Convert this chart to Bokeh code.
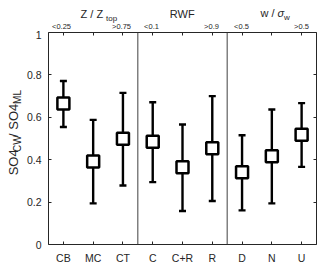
import math
from bokeh.plotting import figure
from bokeh.layouts import column, row
from bokeh.models import (ColumnDataSource, Whisker, TeeHead, Span,
                          FixedTicker, LinearAxis, Range1d)
from bokeh.core.properties import value
from bokeh.embed import file_html
from bokeh.resources import INLINE

categories = ["CB", "MC", "CT", "C", "C+R", "R", "D", "N", "U"]
top_labels = ["<0.25", "", ">0.75", "<0.1", "", ">0.9", "<0.5", "", ">0.5"]
median = [0.665, 0.391, 0.499, 0.485, 0.364, 0.454, 0.341, 0.416, 0.518]
upper = [0.771, 0.588, 0.715, 0.671, 0.566, 0.700, 0.515, 0.637, 0.667]
lower = [0.554, 0.194, 0.278, 0.294, 0.158, 0.205, 0.161, 0.194, 0.366]
group_bounds = [3.5, 6.5]
y_ticks = [0, 0.2, 0.4, 0.6, 0.8, 1]
y_tick_labels = ["0", "0.2", "0.4", "0.6", "0.8", "1"]

# group title pieces: text, x (category units), baseline (px from top)
title_text = ["Z / Z", "top", "RWF", "w / ", "\u03c3", "w"]
title_x = [1.633, 2.483, 5.023, 7.633, 8.2, 8.417]
title_y = [13.3, 18.0, 13.3, 12.9, 12.9, 17.4]
title_size = ["11px", "8px", "11px", "11px", "11px", "8px"]
title_align = ["left", "left", "center", "left", "left", "left"]
title_style = ["normal", "normal", "normal", "normal", "italic", "normal"]
top_label_baseline = 26.3

# y-label pieces (rotated): baseline x, start y (px from bottom)
ylab_text = ["SO4", "CW", " / SO4", "ML"]
ylab_x = [12.5, 16.5, 12.5, 16.5]
ylab_y = [77, 103, 119.7, 156.5]
ylab_size = ["13px", "10px", "13px", "10px"]

xs = list(range(1, len(categories) + 1))
FONT = "Liberation Sans"
AX = "#262626"

TITLE_H = 30
MAIN_H = 266 - TITLE_H
YLAB_W = 23
MAIN_W = 320 - YLAB_W

xr = Range1d(0.5, 9.5)

p = figure(width=MAIN_W, height=MAIN_H, output_backend="svg",
           toolbar_location=None, x_range=xr, y_range=Range1d(0, 1),
           min_border_left=23, min_border_right=4, min_border_top=2,
           min_border_bottom=22)
p.xgrid.visible = False
p.ygrid.visible = False
p.outline_line_color = AX
p.outline_line_width = 1
p.background_fill_color = "white"
p.border_fill_color = "white"

def style(ax, size="10.5px"):
    ax.axis_line_color = None
    ax.major_tick_in = 3
    ax.major_tick_out = 0
    ax.minor_tick_line_color = None
    ax.major_tick_line_color = AX
    ax.major_label_text_font = FONT
    ax.major_label_text_font_size = size
    ax.major_label_text_color = AX

xb = p.xaxis[0]
xb.ticker = FixedTicker(ticks=xs)
xb.major_label_overrides = {x: c for x, c in zip(xs, categories)}
style(xb)
xb.major_label_standoff = 7

yl = p.yaxis[0]
yl.ticker = FixedTicker(ticks=y_ticks)
yl.major_label_overrides = {t: l for t, l in zip(y_ticks, y_tick_labels)}
style(yl)
yl.major_label_standoff = 7

# top axis: ticks only (its labels are drawn in the strip above)
xt = LinearAxis(ticker=FixedTicker(ticks=xs),
                major_label_overrides={x: "" for x in xs})
style(xt, "1px")
xt.major_label_standoff = 0
p.add_layout(xt, "above")

yr = LinearAxis(ticker=FixedTicker(ticks=y_ticks),
                major_label_overrides={t: "" for t in y_ticks})
style(yr, "1px")
yr.major_label_standoff = 0
p.add_layout(yr, "right")

for b in group_bounds:
    p.add_layout(Span(location=b, dimension="height", line_color="#404040",
                      line_width=1))

src = ColumnDataSource(dict(x=xs, med=median, up=upper, lo=lower))
w = Whisker(source=src, base="x", upper="up", lower="lo", dimension="height",
            line_color="black", line_width=2.4,
            upper_head=TeeHead(size=7, line_width=2.4, line_color="black"),
            lower_head=TeeHead(size=7, line_width=2.4, line_color="black"))
w.level = "glyph"
p.add_layout(w)
p.scatter("x", "med", source=src, marker="square", size=12,
          fill_color="white", line_color="black", line_width=2.5,
          level="overlay")

def blank(width, height, x_range, left=0, right=0):
    f = figure(width=width, height=height, output_backend="svg",
               toolbar_location=None, x_axis_type=None, y_axis_type=None,
               x_range=x_range, y_range=Range1d(0, height),
               min_border_left=left, min_border_right=right,
               min_border_top=0, min_border_bottom=0)
    f.outline_line_color = None
    f.grid.visible = False
    f.background_fill_color = "white"
    f.border_fill_color = "white"
    return f

# title strip, sharing the category x range of the chart
t = blank(320, TITLE_H, xr, left=46, right=4)
tsrc = ColumnDataSource(dict(x=title_x, y=[TITLE_H - v for v in title_y],
                             text=title_text, size=title_size,
                             align=title_align, fstyle=title_style))
t.text("x", "y", text="text", source=tsrc, text_font=value(FONT),
       text_font_size="size", text_align="align",
       text_font_style="fstyle", text_baseline="alphabetic",
       text_color=AX)
lsrc = ColumnDataSource(dict(x=xs, y=[TITLE_H - top_label_baseline] * len(xs),
                             text=top_labels))
t.text("x", "y", text="text", source=lsrc, text_font=value(FONT),
       text_font_size="7.5px", text_align="center",
       text_baseline="alphabetic", text_color=AX)

# y-label strip
yf = blank(YLAB_W, MAIN_H, Range1d(0, YLAB_W))
ysrc = ColumnDataSource(dict(x=ylab_x, y=ylab_y, text=ylab_text,
                             size=ylab_size))
yf.text("x", "y", text="text", source=ysrc, text_font=value(FONT),
        text_font_size="size", text_align="left",
        text_baseline="alphabetic", angle=math.pi / 2, text_color=AX)

layout = column(t, row(yf, p, spacing=0), spacing=0)
open("out.html", "w").write(file_html(layout, INLINE))
